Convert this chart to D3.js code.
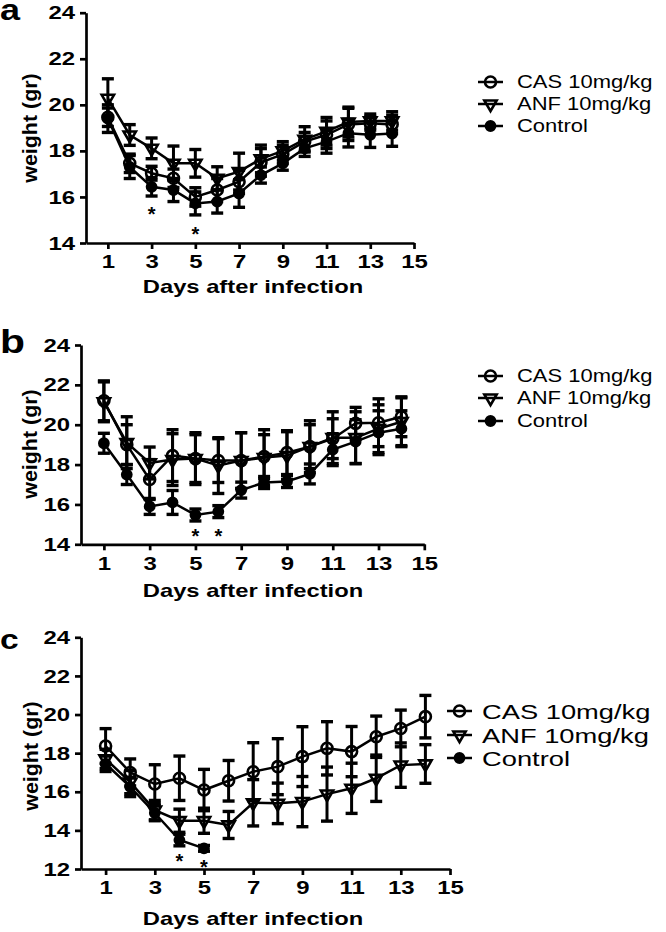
<!DOCTYPE html>
<html>
<head>
<meta charset="utf-8">
<script src="https://cdn.jsdelivr.net/npm/d3@7"></script>
<style>
  body { margin: 0; background: #fff; }
  text { font-family: "Liberation Sans", Arial, sans-serif; fill: #000; }
</style>
</head>
<body>
<svg id="chart" width="666" height="932"></svg>
<script>
// days after infection and tick labels
var days = [1, 2, 3, 4, 5, 6, 7, 8, 9, 10, 11, 12, 13, 14];
var xTicks = [1, 3, 5, 7, 9, 11, 13, 15];
var yTicksAB = [14, 16, 18, 20, 22, 24];
var yTicksC = [12, 14, 16, 18, 20, 22, 24];
var seriesNames = ['CAS 10mg/kg', 'ANF 10mg/kg', 'Control'];

// panel a
var casA = [19.46, 17.46, 17.03, 16.81, 16.0, 16.3, 16.66, 17.5, 17.85, 18.4, 18.7, 19.15, 19.2, 19.15];
var casErrA = [0.4, 0.4, 0.3, 0.4, 0.4, 0.5, 0.5, 0.6, 0.4, 0.4, 0.6, 0.7, 0.3, 0.4];
var anfA = [20.28, 18.69, 18.11, 17.46, 17.46, 16.81, 17.1, 17.65, 18.0, 18.5, 18.85, 19.25, 19.3, 19.3];
var anfErrA = [0.85, 0.45, 0.45, 0.75, 0.6, 0.5, 0.8, 0.6, 0.4, 0.55, 0.6, 0.65, 0.3, 0.4];
var ctrlA = [19.4, 17.3, 16.44, 16.3, 15.72, 15.8, 16.15, 16.95, 17.46, 18.11, 18.4, 18.77, 18.7, 18.75];
var ctrlErrA = [0.6, 0.5, 0.4, 0.5, 0.5, 0.5, 0.6, 0.35, 0.3, 0.35, 0.5, 0.6, 0.55, 0.55];
var starsA = [{ day: 3, y: 15.45 }, { day: 5, y: 14.58 }];

// panel b
var casB = [21.2, 19.0, 17.25, 18.45, 18.3, 18.2, 18.2, 18.4, 18.6, 18.9, 19.3, 20.07, 20.1, 20.4];
var casErrB = [1.0, 1.0, 1.0, 1.3, 1.2, 1.1, 1.4, 1.1, 1.1, 1.1, 1.0, 0.8, 1.2, 1.0];
var anfB = [21.15, 19.1, 18.08, 18.25, 18.3, 17.95, 18.2, 18.35, 18.45, 18.9, 19.35, 19.35, 19.8, 20.15];
var anfErrB = [1.0, 1.3, 0.8, 1.3, 1.3, 1.4, 1.4, 1.4, 1.2, 1.3, 1.3, 1.3, 1.2, 1.2];
var ctrlB = [19.07, 17.5, 15.9, 16.1, 15.47, 15.64, 16.72, 17.1, 17.15, 17.53, 18.75, 19.15, 19.6, 19.8];
var ctrlErrB = [0.5, 0.5, 0.4, 0.6, 0.3, 0.3, 0.4, 0.3, 0.3, 0.5, 0.8, 1.1, 1.1, 0.9];
var starsB = [{ day: 5, y: 14.64 }, { day: 6, y: 14.64 }];

// panel c (control only measured up to day 5)
var casC = [18.37, 17.0, 16.4, 16.7, 16.09, 16.57, 17.04, 17.3, 17.82, 18.25, 18.08, 18.85, 19.28, 19.89];
var casErrC = [0.9, 0.7, 1.0, 1.15, 1.07, 1.05, 1.5, 1.45, 1.55, 1.38, 1.3, 1.07, 0.95, 1.1];
var anfC = [17.7, 16.5, 15.05, 14.5, 14.5, 14.28, 15.43, 15.4, 15.49, 15.88, 16.18, 16.7, 17.38, 17.44];
var anfErrC = [0.5, 0.6, 0.5, 0.6, 0.65, 0.7, 1.2, 1.05, 1.3, 1.4, 1.3, 1.2, 1.15, 1.0];
var ctrlDaysC = [1, 2, 3, 4, 5];
var ctrlC = [17.45, 16.25, 14.9, 13.5, 13.07];
var ctrlErrC = [0.4, 0.5, 0.4, 0.3, 0.15];
var starsC = [{ day: 4, y: 12.64 }, { day: 5, y: 12.3 }];

function zip(xs, vs, es) {
  return xs.map(function (d, i) { return { day: d, v: vs[i], e: es[i] }; });
}

var panels = [
  {
    letter: 'a', letterY: 20, letterSize: 30,
    left: 86, right: 414, top: 12.7, bottom: 243,
    yDomain: [14, 24], yTicks: yTicksAB,
    xTitleY: 293, yTitleX: 30, yTitleY: 128,
    legend: { x: 478, tx: 517, rows: [82, 104, 126], size: 18, k: 1.22 },
    series: [zip(days, casA, casErrA), zip(days, anfA, anfErrA), zip(days, ctrlA, ctrlErrA)],
    stars: starsA
  },
  {
    letter: 'b', letterY: 353, letterSize: 34,
    left: 81, right: 424.3, top: 345, bottom: 544.3,
    yDomain: [14, 24], yTicks: yTicksAB,
    xTitleY: 597, yTitleX: 30, yTitleY: 444,
    legend: { x: 478, tx: 517, rows: [376, 398, 421], size: 18, k: 1.22 },
    series: [zip(days, casB, casErrB), zip(days, anfB, anfErrB), zip(days, ctrlB, ctrlErrB)],
    stars: starsB
  },
  {
    letter: 'c', letterY: 649, letterSize: 28,
    left: 81, right: 450, top: 637.3, bottom: 869,
    yDomain: [12, 24], yTicks: yTicksC,
    xTitleY: 925, yTitleX: 31, yTitleY: 756,
    legend: { x: 447, tx: 482, rows: [711, 735, 758], size: 21, k: 1.3 },
    series: [zip(days, casC, casErrC), zip(days, anfC, anfErrC), zip(ctrlDaysC, ctrlC, ctrlErrC)],
    stars: starsC
  }
];

var svg = d3.select('#chart');
svg.append('rect').attr('width', 666).attr('height', 932).attr('fill', '#fff');

// widen glyphs like the original's horizontally stretched lettering
function stretch(sel, k) {
  sel.each(function () {
    var w = this.getComputedTextLength();
    this.setAttribute('textLength', w * k);
    this.setAttribute('lengthAdjust', 'spacingAndGlyphs');
  });
}

// marker shapes: open circle, open down triangle, filled dot
var symbols = [
  { type: d3.symbolCircle, size: 95, fill: 'none', rotate: 0 },
  { type: d3.symbolTriangle, size: 66, fill: 'none', rotate: 180 },
  { type: d3.symbolCircle, size: 66, fill: '#000', rotate: 0 }
];

function marker(g, s, cx, cy) {
  g.append('path')
    .attr('d', d3.symbol().type(s.type).size(s.size)())
    .attr('transform', 'translate(' + cx + ',' + cy + ') rotate(' + s.rotate + ')')
    .attr('fill', s.fill)
    .attr('stroke', '#000')
    .attr('stroke-width', 2.6);
}

panels.forEach(function (p) {
  var g = svg.append('g');

  var x = d3.scaleLinear().domain([0, 15]).range([p.left, p.right]);
  var y = d3.scaleLinear().domain(p.yDomain).range([p.bottom, p.top]);

  var xAxis = g.append('g')
    .attr('transform', 'translate(0,' + p.bottom + ')')
    .call(d3.axisBottom(x).tickValues(xTicks).tickSize(6).tickSizeOuter(0).tickPadding(6));

  var yAxis = g.append('g')
    .attr('transform', 'translate(' + p.left + ',0)')
    .call(d3.axisLeft(y).tickValues(p.yTicks).tickSize(6).tickSizeOuter(0).tickPadding(5));

  [xAxis, yAxis].forEach(function (a) {
    a.select('.domain').attr('stroke-width', 2.7);
    a.selectAll('.tick line').attr('stroke-width', 2.7);
    a.selectAll('.tick text')
      .attr('font-size', 19)
      .attr('font-weight', 'bold')
      .attr('font-family', '"Liberation Sans", Arial, sans-serif')
      .call(stretch, 1.26);
  });

  g.append('text')
    .attr('x', 253)
    .attr('y', p.xTitleY)
    .attr('text-anchor', 'middle')
    .attr('font-size', 19)
    .attr('font-weight', 'bold')
    .text('Days after infection')
    .call(stretch, 1.25);

  g.append('text')
    .attr('transform', 'translate(' + p.yTitleX + ',' + p.yTitleY + ') rotate(-90)')
    .attr('text-anchor', 'middle')
    .attr('dy', '0.35em')
    .attr('font-size', 21)
    .attr('font-weight', 'bold')
    .text('weight (gr)')
    .call(stretch, 1.02);

  g.append('text')
    .attr('x', 0)
    .attr('y', p.letterY)
    .attr('font-size', p.letterSize)
    .attr('font-weight', 'bold')
    .text(p.letter)
    .call(stretch, 1.2);

  var line = d3.line()
    .x(function (d) { return x(d.day); })
    .y(function (d) { return y(d.v); });

  // draw control first, then ANF, then CAS on top
  [2, 1, 0].forEach(function (si) {
    var data = p.series[si];
    var sg = g.append('g');

    sg.append('path')
      .datum(data)
      .attr('d', line)
      .attr('fill', 'none')
      .attr('stroke', '#000')
      .attr('stroke-width', 2.5);

    var bars = sg.selectAll('.err')
      .data(data)
      .enter()
      .append('g')
      .attr('class', 'err');

    bars.append('line')
      .attr('x1', function (d) { return x(d.day); })
      .attr('x2', function (d) { return x(d.day); })
      .attr('y1', function (d) { return y(d.v - d.e); })
      .attr('y2', function (d) { return y(d.v + d.e); })
      .attr('stroke', '#000')
      .attr('stroke-width', 3);

    [-1, 1].forEach(function (sgn) {
      bars.append('line')
        .attr('x1', function (d) { return x(d.day) - 6; })
        .attr('x2', function (d) { return x(d.day) + 6; })
        .attr('y1', function (d) { return y(d.v + sgn * d.e); })
        .attr('y2', function (d) { return y(d.v + sgn * d.e); })
        .attr('stroke', '#000')
        .attr('stroke-width', 3.4);
    });

    data.forEach(function (d) {
      marker(sg, symbols[si], x(d.day), y(d.v));
    });
  });

  g.selectAll('.star')
    .data(p.stars)
    .enter()
    .append('text')
    .attr('class', 'star')
    .attr('x', function (d) { return x(d.day); })
    .attr('y', function (d) { return y(d.y) + 11; })
    .attr('text-anchor', 'middle')
    .attr('font-size', 20)
    .attr('font-weight', 'bold')
    .text('*');

  // legend
  var L = p.legend;
  seriesNames.forEach(function (name, i) {
    var ry = L.rows[i];
    g.append('line')
      .attr('x1', L.x).attr('x2', L.x + 25)
      .attr('y1', ry).attr('y2', ry)
      .attr('stroke', '#000')
      .attr('stroke-width', 2.5);
    marker(g, symbols[i], L.x + 12.5, ry);
    g.append('text')
      .attr('x', L.tx)
      .attr('y', ry)
      .attr('dy', '0.36em')
      .attr('font-size', L.size)
      .text(name)
      .call(stretch, L.k);
  });
});
</script>
</body>
</html>
